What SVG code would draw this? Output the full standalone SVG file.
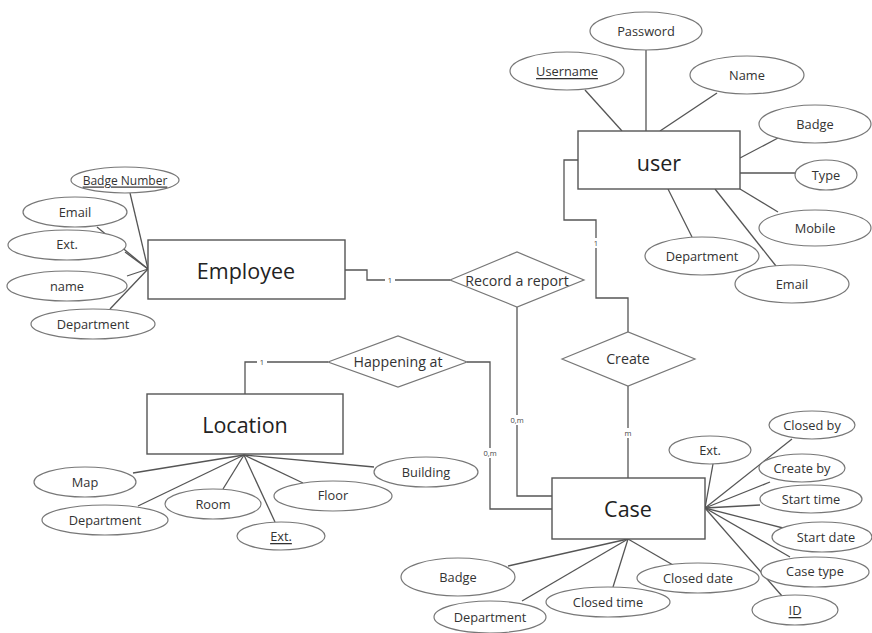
<svg xmlns="http://www.w3.org/2000/svg" width="872" height="633" viewBox="0 0 872 633">
<style>
.ln{stroke:#555;stroke-width:1.3;fill:none}
.at ellipse{fill:#fff;stroke:#777;stroke-width:1.2}
.at text{font-family:"Open Sans","Liberation Sans",sans-serif;font-size:12.8px;fill:#333;text-anchor:middle;dominant-baseline:central}
.ent rect{fill:#fff;stroke:#555;stroke-width:1.4}
.ent text{font-family:"Open Sans","Liberation Sans",sans-serif;font-size:21.5px;fill:#222;text-anchor:middle;dominant-baseline:central}
.rel polygon{fill:#fff;stroke:#777;stroke-width:1.2}
.rel text{font-family:"Open Sans","Liberation Sans",sans-serif;font-size:14.2px;fill:#333;text-anchor:middle;dominant-baseline:central}
.card{font-family:"Open Sans","Liberation Sans",sans-serif;font-size:7.5px;fill:#444;text-anchor:middle;dominant-baseline:central}
.u{text-decoration:underline}
</style>
<rect width="872" height="633" fill="#fff"/>
<g id="connectors">
<line class="ln" x1="585" y1="90" x2="622" y2="131"/>
<line class="ln" x1="646" y1="50" x2="646" y2="131"/>
<line class="ln" x1="717" y1="93" x2="660" y2="131"/>
<line class="ln" x1="778" y1="138" x2="740" y2="158"/>
<line class="ln" x1="740" y1="173" x2="796" y2="173"/>
<line class="ln" x1="740" y1="189" x2="778" y2="212"/>
<line class="ln" x1="715" y1="189" x2="776" y2="266"/>
<line class="ln" x1="668" y1="189" x2="692" y2="237"/>
<line class="ln" x1="130" y1="193" x2="148" y2="269"/>
<line class="ln" x1="97" y1="227" x2="148" y2="269"/>
<line class="ln" x1="125" y1="252" x2="148" y2="269"/>
<line class="ln" x1="127" y1="276" x2="148" y2="269"/>
<line class="ln" x1="110" y1="309" x2="148" y2="269"/>
<line class="ln" x1="133" y1="473" x2="244" y2="455"/>
<line class="ln" x1="138" y1="506" x2="244" y2="455"/>
<line class="ln" x1="223" y1="489" x2="244" y2="455"/>
<line class="ln" x1="275" y1="522" x2="244" y2="455"/>
<line class="ln" x1="303" y1="483" x2="244" y2="455"/>
<line class="ln" x1="374" y1="467" x2="244" y2="455"/>
<line class="ln" x1="713" y1="464" x2="705" y2="508"/>
<line class="ln" x1="792" y1="439" x2="705" y2="508"/>
<line class="ln" x1="770" y1="482" x2="705" y2="508"/>
<line class="ln" x1="760" y1="505" x2="705" y2="508"/>
<line class="ln" x1="783" y1="528" x2="705" y2="508"/>
<line class="ln" x1="790" y1="557" x2="705" y2="508"/>
<line class="ln" x1="782" y1="596" x2="705" y2="508"/>
<line class="ln" x1="508" y1="566" x2="628" y2="539"/>
<line class="ln" x1="522" y1="601" x2="628" y2="539"/>
<line class="ln" x1="613" y1="587" x2="628" y2="539"/>
<line class="ln" x1="673" y1="565" x2="628" y2="539"/>
<polyline class="ln" points="345,270 367,270 367,280 450,280"/>
<polyline class="ln" points="517,307 517,496 552,496"/>
<polyline class="ln" points="578,160 564,160 564,220 596,220 596,298 628,298 628,332"/>
<line class="ln" x1="628" y1="386" x2="628" y2="478"/>
<polyline class="ln" points="328,362 245,362 245,394"/>
<polyline class="ln" points="467,362 490,362 490,509 552,509"/>
<g fill="#fff"><rect x="385" y="276" width="10" height="9"/><rect x="511" y="415" width="13" height="10"/><rect x="591" y="238" width="10" height="10"/><rect x="622" y="428" width="12" height="10"/><rect x="257" y="357" width="10" height="10"/><rect x="483" y="448" width="14" height="10"/></g>
<text class="card" x="390" y="280">1</text>
<text class="card" x="517" y="420">0,m</text>
<text class="card" x="596" y="243">1</text>
<text class="card" x="628" y="433">m</text>
<text class="card" x="262" y="362">1</text>
<text class="card" x="490" y="453">0,m</text>
</g>
<g id="user" class="ent"><rect x="578" y="131" width="162" height="58"/><text x="659" y="162">user</text></g>
<g id="employee" class="ent"><rect x="148" y="240" width="197" height="59"/><text x="246" y="270">Employee</text></g>
<g id="location" class="ent"><rect x="147" y="394" width="196" height="60"/><text x="245" y="424">Location</text></g>
<g id="case" class="ent"><rect x="552" y="478" width="153" height="61"/><text x="628" y="508">Case</text></g>
<g id="record-a-report" class="rel"><polygon points="450,280 517,252 584,280 517,307"/><text x="517" y="280">Record a report</text></g>
<g id="create" class="rel"><polygon points="562,359 628,332 695,359 628,386"/><text x="628" y="358">Create</text></g>
<g id="happening-at" class="rel"><polygon points="328,362 398,336 467,362 398,387"/><text x="398" y="361">Happening at</text></g>
<g id="user-password" class="at"><ellipse cx="646" cy="31" rx="56" ry="19"/><text x="646" y="31">Password</text></g>
<g id="user-username" class="at"><ellipse cx="567" cy="71" rx="57" ry="19"/><text class="u" x="567" y="71">Username</text></g>
<g id="user-name" class="at"><ellipse cx="747" cy="75" rx="57" ry="19"/><text x="747" y="75">Name</text></g>
<g id="user-badge" class="at"><ellipse cx="815" cy="124" rx="56" ry="19"/><text x="815" y="124">Badge</text></g>
<g id="user-type" class="at"><ellipse cx="826" cy="175" rx="31" ry="15"/><text x="826" y="175">Type</text></g>
<g id="user-mobile" class="at"><ellipse cx="815" cy="228" rx="56" ry="18"/><text x="815" y="228">Mobile</text></g>
<g id="user-department" class="at"><ellipse cx="702" cy="256" rx="57" ry="19"/><text x="702" y="256">Department</text></g>
<g id="user-email" class="at"><ellipse cx="792" cy="284" rx="57" ry="19"/><text x="792" y="284">Email</text></g>
<g id="emp-badge-number" class="at"><ellipse cx="125" cy="180" rx="54" ry="13"/><text class="u" x="125" y="180" style="font-size:12px">Badge Number</text></g>
<g id="emp-email" class="at"><ellipse cx="75" cy="212" rx="52" ry="15"/><text x="75" y="212">Email</text></g>
<g id="emp-ext" class="at"><ellipse cx="67" cy="245" rx="59" ry="15"/><text x="67" y="244">Ext.</text></g>
<g id="emp-name" class="at"><ellipse cx="67" cy="286" rx="60" ry="15"/><text x="67" y="286">name</text></g>
<g id="emp-department" class="at"><ellipse cx="93" cy="324" rx="62" ry="15"/><text x="93" y="324">Department</text></g>
<g id="loc-map" class="at"><ellipse cx="85" cy="482" rx="51" ry="15"/><text x="85" y="482">Map</text></g>
<g id="loc-department" class="at"><ellipse cx="105" cy="520" rx="63" ry="15"/><text x="105" y="520">Department</text></g>
<g id="loc-room" class="at"><ellipse cx="213" cy="504" rx="48" ry="15"/><text x="213" y="504">Room</text></g>
<g id="loc-ext" class="at"><ellipse cx="281" cy="536" rx="44" ry="14"/><text class="u" x="281" y="536">Ext.</text></g>
<g id="loc-floor" class="at"><ellipse cx="333" cy="496" rx="59" ry="15"/><text x="333" y="495">Floor</text></g>
<g id="loc-building" class="at"><ellipse cx="426" cy="472" rx="52" ry="15"/><text x="426" y="472">Building</text></g>
<g id="case-ext" class="at"><ellipse cx="710" cy="450" rx="41" ry="14"/><text x="710" y="450">Ext.</text></g>
<g id="case-closed-by" class="at"><ellipse cx="812" cy="425" rx="43" ry="14"/><text x="812" y="425">Closed by</text></g>
<g id="case-create-by" class="at"><ellipse cx="802" cy="468" rx="43" ry="14"/><text x="802" y="468">Create by</text></g>
<g id="case-start-time" class="at"><ellipse cx="811" cy="499" rx="51" ry="14"/><text x="811" y="499">Start time</text></g>
<g id="case-start-date" class="at"><ellipse cx="822" cy="537" rx="50" ry="15"/><text x="826" y="537">Start date</text></g>
<g id="case-case-type" class="at"><ellipse cx="815" cy="572" rx="54" ry="15"/><text x="815" y="571">Case type</text></g>
<g id="case-id" class="at"><ellipse cx="795" cy="610" rx="43" ry="15"/><text class="u" x="795" y="610">ID</text></g>
<g id="case-badge" class="at"><ellipse cx="458" cy="577" rx="57" ry="19"/><text x="458" y="577">Badge</text></g>
<g id="case-department" class="at"><ellipse cx="490" cy="617" rx="56" ry="16"/><text x="490" y="617">Department</text></g>
<g id="case-closed-time" class="at"><ellipse cx="608" cy="602" rx="62" ry="15"/><text x="608" y="602">Closed time</text></g>
<g id="case-closed-date" class="at"><ellipse cx="698" cy="578" rx="61" ry="15"/><text x="698" y="578">Closed date</text></g>
</svg>
